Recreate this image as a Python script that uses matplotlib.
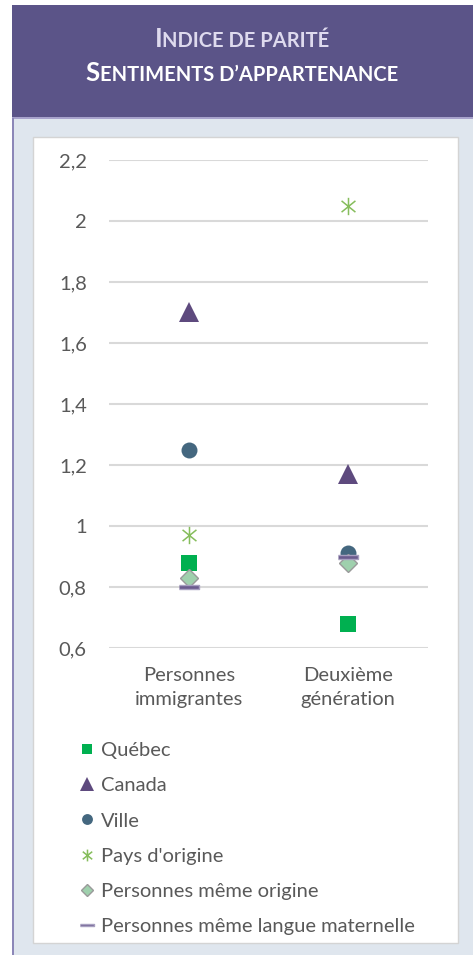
import matplotlib.pyplot as plt
import numpy as np
from matplotlib.patches import Rectangle
from matplotlib.lines import Line2D
from matplotlib.path import Path
from matplotlib.offsetbox import TextArea, HPacker, AnchoredOffsetbox

# Data
categories = ["Personnes\nimmigrantes", "Deuxième\ngénération"]
series = ["Québec", "Canada", "Ville", "Pays d'origine",
          "Personnes même origine", "Personnes même langue maternelle"]
quebec = [0.88, 0.68]
canada = [1.70, 1.17]
ville = [1.25, 0.91]
pays = [0.97, 2.05]
meme_origine = [0.83, 0.88]
meme_langue = [0.80, 0.90]
values = [quebec, canada, ville, pays, meme_origine, meme_langue]
yticks = [0.6, 0.8, 1.0, 1.2, 1.4, 1.6, 1.8, 2.0, 2.2]

W, H = 473, 955
plt.rcParams['font.family'] = ['Lato', 'DejaVu Sans']

fig = plt.figure(figsize=(W / 100, H / 100), dpi=100)


def frac(x0, y0, x1, y1):
    # pixel box (top-left origin) -> figure fraction rect
    return (x0 / W, 1 - y1 / H), (x1 - x0) / W, (y1 - y0) / H


def add_rect(x0, y0, x1, y1, **kw):
    xy, w, h = frac(x0, y0, x1, y1)
    fig.patches.append(Rectangle(xy, w, h, transform=fig.transFigure, zorder=-10, **kw))


# header band and background panels
add_rect(12, 5, 473, 118, facecolor='#5b5488', edgecolor='none')
add_rect(12, 118, 473, 955, facecolor='#dfe6ee', edgecolor='none')
add_rect(12, 117, 473, 119, facecolor='#a8a3cc', edgecolor='none')
add_rect(12, 118, 14, 955, facecolor='#8c87b8', edgecolor='none')
add_rect(33, 137, 458, 943, facecolor='white', edgecolor='#d4d4d4', linewidth=1)


# small-caps style title lines
def title_line(first, rest, ypix, color):
    box = HPacker(children=[
        TextArea(first, textprops=dict(size=18.5, color=color, weight='bold')),
        TextArea(rest, textprops=dict(size=14.5, color=color, weight='bold')),
    ], align='baseline', pad=0, sep=0)
    ab = AnchoredOffsetbox(loc='center', child=box, frameon=False,
                           bbox_to_anchor=(242 / W, 1 - ypix / H),
                           bbox_transform=fig.transFigure, borderpad=0, pad=0)
    fig.add_artist(ab)


title_line("I", "NDICE DE PARITÉ", 39, '#dedaee')
title_line("S", "ENTIMENTS D’APPARTENANCE", 73, 'white')

# axes
ax = fig.add_axes([109 / W, 1 - 648 / H, 319 / W, 488 / H])
ax.set_facecolor('none')
ax.set_ylim(0.6, 2.2)
ax.set_xlim(-0.5, 1.5)
ax.set_yticks(yticks)
ax.set_yticklabels([f"{v:g}".replace('.', ',') for v in yticks])
ax.set_xticks(np.arange(len(categories)))
ax.set_xticklabels(categories, linespacing=1.5)
ax.tick_params(axis='both', length=0, labelsize=14.5, labelcolor='#595959')
ax.tick_params(axis='y', pad=16)
ax.tick_params(axis='x', pad=14)
ax.grid(axis='y', color='#d9d9d9', linewidth=1.5)
ax.set_axisbelow(True)
for s in ax.spines.values():
    s.set_visible(False)

asterisk = Path([(0, -1), (0, 1), (-0.8, -0.65), (0.8, 0.65), (-0.8, 0.65), (0.8, -0.65)],
                [Path.MOVETO, Path.LINETO] * 3)
dash = [(-1, -0.17), (1, -0.17), (1, 0.17), (-1, 0.17)]

styles = [
    dict(marker='s', ms=11.5, mfc='#00b050', mec='#00b050', mew=0),
    dict(marker='^', ms=14, mfc='#5e4a7e', mec='#5e4a7e', mew=0),
    dict(marker='o', ms=11.5, mfc='#44677f', mec='#44677f', mew=0),
    dict(marker=asterisk, ms=12.5, mfc='none', mec='#86bd5c', mew=1.1),
    dict(marker='D', ms=9.5, mfc='#9fd0ad', mec='#9a9a9a', mew=1),
    dict(marker=dash, ms=15, mfc='#6b5b8e', mec='#a79fc0', mew=1),
]

x = np.arange(len(categories))
handles = []
for name, vals, st in zip(series, values, styles):
    ax.plot(x, vals, linestyle='none', clip_on=False, **st)
    small = dict(st)
    small['ms'] = st['ms'] * 0.68
    handles.append(Line2D([], [], linestyle='none', label=name, **small))

fig.legend(handles=handles, loc='upper left', bbox_to_anchor=(80 / W, 1 - 742 / H),
           frameon=False, fontsize=14.5, labelcolor='#595959', handlelength=0.7,
           handletextpad=0.35, labelspacing=0.9, borderpad=0, borderaxespad=0)

fig.savefig('out.png', dpi=100)
